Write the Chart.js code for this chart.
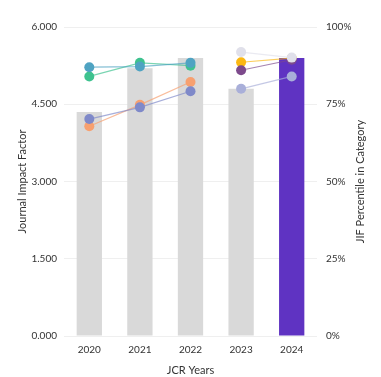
<!DOCTYPE html>
<html>
<head>
<meta charset="utf-8">
<script src="https://cdn.jsdelivr.net/npm/chart.js@4/dist/chart.umd.min.js"></script>
<style>
    html, body { margin: 0; padding: 0; background: #fff; }
    #wrap { width: 381px; height: 377px; }
</style>
</head>
<body>
<div id="wrap"><canvas id="jif-canvas" width="381" height="377"></canvas></div>
<script>
var years = ['2020', '2021', '2022', '2023', '2024'];
var impactFactor = [4.35, 5.2, 5.4, 4.8, 5.4];
var barColors = ['#d9d9d9', '#d9d9d9', '#d9d9d9', '#d9d9d9', '#5f33c2'];

var leftTicks = [0, 1.5, 3, 4.5, 6];
var rightTicks = [0, 25, 50, 75, 100];

// percentile per category line
var catTeal = [87.0, 87.2, 88.4, null, null];
var catGreen = [84.0, 88.4, 87.5, null, null];
var catOrange = [67.9, 74.8, 82.2, null, null];
var catBlue = [70.2, 74.0, 79.2, null, null];
var catGrey = [null, null, null, 91.9, 90.1];
var catYellow = [null, null, null, 88.6, 89.9];
var catPlum = [null, null, null, 86.0, 89.4];
var catLavender = [null, null, null, 80.0, 84.0];

(function () {
    var font = 'Lato, "Noto Sans", sans-serif';
    var textColor = '#333';

    function lineSet(values, color) {
        return {
            type: 'line',
            data: values,
            yAxisID: 'y1',
            borderColor: color + 'b0',
            backgroundColor: color,
            pointBackgroundColor: color,
            pointBorderColor: color,
            borderWidth: 1.2,
            pointRadius: 5,
            pointBorderWidth: 0,
            tension: 0,
            order: 0,
        };
    }

    // right axis title reads bottom-to-top, like the left one
    var rightTitle = {
        id: 'rightTitle',
        afterDraw: function (chart) {
            var ctx = chart.ctx;
            var area = chart.chartArea;
            ctx.save();
            ctx.translate(360, (area.top + area.bottom) / 2);
            ctx.rotate(-Math.PI / 2);
            ctx.fillStyle = textColor;
            ctx.font = '11px ' + font;
            ctx.textAlign = 'center';
            ctx.textBaseline = 'middle';
            ctx.fillText('JIF Percentile in Category', 0, 0);
            ctx.restore();
        },
    };

    var datasets = [
        {
            type: 'bar',
            data: impactFactor,
            backgroundColor: barColors,
            yAxisID: 'y',
            categoryPercentage: 1,
            barPercentage: 0.5,
            order: 10,
        },
        lineSet(catTeal, '#4fa3c2'),
        lineSet(catGreen, '#3ec28f'),
        lineSet(catBlue, '#7f89c9'),
        lineSet(catOrange, '#f7a070'),
        lineSet(catGrey, '#e0e0ea'),
        lineSet(catLavender, '#a9afd9'),
        lineSet(catPlum, '#7d4a8c'),
        lineSet(catYellow, '#fbb813'),
    ];

    new Chart(document.getElementById('jif-canvas').getContext('2d'), {
        data: { labels: years, datasets: datasets },
        plugins: [rightTitle],
        options: {
            responsive: false,
            animation: false,
            layout: { padding: { top: 27, bottom: 0, left: 0, right: 0 } },
            plugins: { legend: { display: false }, tooltip: { enabled: false } },
            scales: {
                x: {
                    grid: { display: false, drawTicks: false },
                    border: { display: false },
                    ticks: { color: textColor, font: { family: font, size: 10 }, padding: 8 },
                    title: {
                        display: true,
                        text: 'JCR Years',
                        color: textColor,
                        font: { family: font, size: 11 },
                        padding: { top: 4, bottom: 0 },
                    },
                    afterFit: function (s) { s.height = 41; },
                },
                y: {
                    position: 'left',
                    min: 0,
                    max: 6,
                    afterBuildTicks: function (s) {
                        s.ticks = leftTicks.map(function (v) { return { value: v }; });
                    },
                    grid: { color: '#efefef', drawTicks: false },
                    border: { display: false },
                    ticks: {
                        color: textColor,
                        font: { family: font, size: 10 },
                        padding: 7,
                        callback: function (v) { return v.toFixed(3); },
                    },
                    title: {
                        display: true,
                        text: 'Journal Impact Factor',
                        color: textColor,
                        font: { family: font, size: 11 },
                        padding: { top: 16, bottom: 0 },
                    },
                    afterFit: function (s) { s.width = 64; },
                },
                y1: {
                    position: 'right',
                    min: 0,
                    max: 100,
                    afterBuildTicks: function (s) {
                        s.ticks = rightTicks.map(function (v) { return { value: v }; });
                    },
                    grid: { display: false, drawTicks: false },
                    border: { display: false },
                    ticks: {
                        color: textColor,
                        font: { family: font, size: 10 },
                        padding: 9,
                        callback: function (v) { return v + '%'; },
                    },
                    afterFit: function (s) { s.width = 64; },
                },
            },
        },
    });
})();
</script>
</body>
</html>
